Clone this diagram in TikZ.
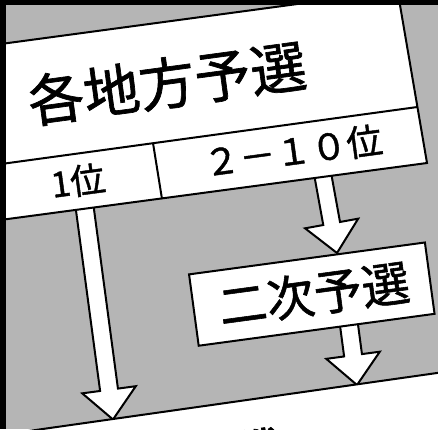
\documentclass[tikz,border=0pt]{standalone}
\usepackage{fontspec}
\newfontfamily\jp[FakeBold=1.2]{Noto Sans CJK JP}
\usetikzlibrary{calc}
\definecolor{panelgray}{RGB}{181,181,181}
\tikzset{
  boxline/.style={draw=black, line width=2pt, fill=white, line join=miter},
  arrowshape/.style={draw=black, line width=2pt, fill=white, line join=miter},
  lbl/.style={inner sep=0pt, text=black},
}
\newcommand\blockarr[4]{%
  \coordinate (#4h) at ($(#2)!30pt!(#1)$);
  \draw[arrowshape] ($(#1)!#3!90:(#2)$) -- ($(#4h)!#3!90:(#2)$) -- ($(#4h)!27pt!90:(#2)$) -- (#2)
    -- ($(#4h)!27pt!-90:(#2)$) -- ($(#4h)!#3!-90:(#2)$) -- ($(#1)!#3!-90:(#2)$) -- cycle;
}
\begin{document}
\begin{tikzpicture}[x=1pt,y=-1pt]
\useasboundingbox (0,0) rectangle (438,429);
\clip (0,0) rectangle (438,429);
\fill[panelgray] (0,0) rectangle (438,429);
% arrows
\coordinate (a1s) at (83,195);  \coordinate (a1t) at (113,419.5);
\coordinate (b1s) at (321,165); \coordinate (b1t) at (337,253);
\coordinate (c1s) at (347,310); \coordinate (c1t) at (357,385);
\blockarr{a1s}{a1t}{9pt}{a1}
\blockarr{b1s}{b1t}{8.5pt}{b1}
\blockarr{c1s}{c1t}{9pt}{c1}
% top box
\draw[boxline] (-20,46.8) -- (397.5,-9.5) -- (427,163) -- (-20,222.7) -- cycle;
\draw[line width=2pt] (-20,166.9) -- (417.4,107);
\draw[line width=2pt] (153,143) -- (162,199);
\node[lbl, font=\jp\fontsize{56}{56}\selectfont, rotate=7.7] (title) at (167,83) {各地方予選};
\node[lbl, font=\jp\fontsize{35}{35}\selectfont, rotate=7.7] (first) at (78,181) {1位};
\node[lbl, font=\jp\fontsize{36}{36}\selectfont, rotate=7.7] (rest) at (293,151) {２－１０位};
% second box
\node[boxline, rotate=7.7, minimum width=238pt, minimum height=72pt, inner sep=0pt] (second) at (311.8,294.1) {};
\node[lbl, font=\jp\fontsize{48}{48}\selectfont, rotate=7.7] (secondtext) at (314,294) {二次予選};
% bottom box
\draw[boxline] (-20,437.9) -- (470,368.3) -- (470,470) -- (-20,470) -- cycle;
\node[lbl, font=\jp\fontsize{50}{50}\selectfont, rotate=8] (final) at (233,455) {本戦};
% frame
\draw[line width=6pt] (3,0) -- (3,429);
\draw[line width=4.5pt] (0,2.25) -- (438,2.25);
\end{tikzpicture}
\end{document}
